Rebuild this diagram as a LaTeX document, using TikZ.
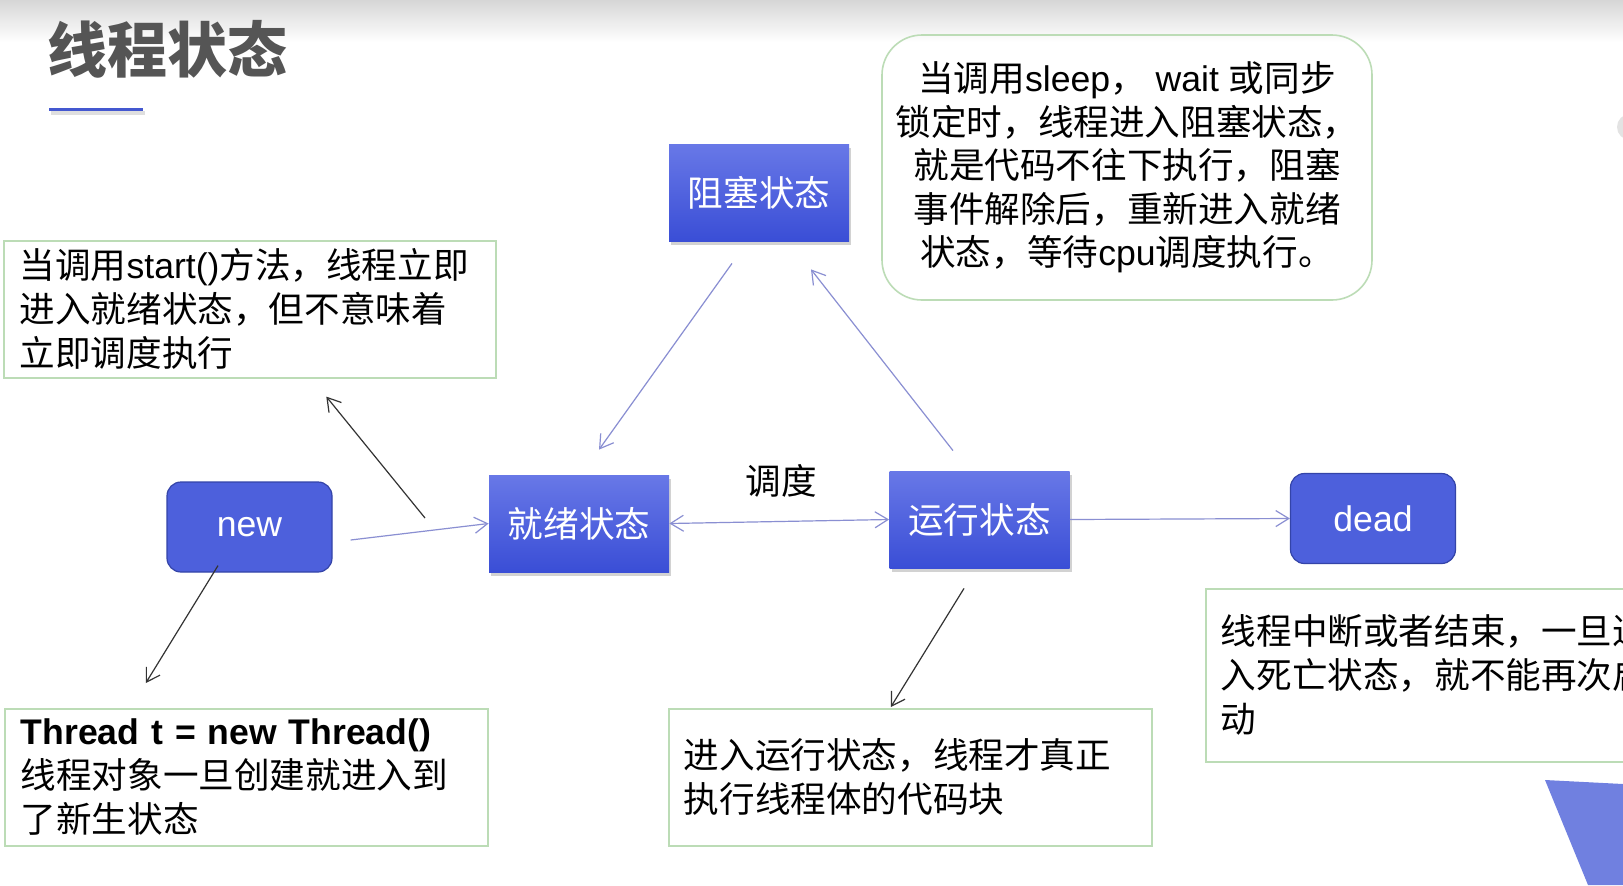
\documentclass[tikz,border=0pt]{standalone}
\usepackage{fontspec}
\setmainfont{Noto Sans CJK SC}
\newfontfamily\arial{Liberation Sans}
\usetikzlibrary{arrows.meta,shadows,calc}

\definecolor{statetop}{HTML}{6878E7}
\definecolor{statebot}{HTML}{3A4ED6}
\definecolor{roundfill}{HTML}{4D60DC}
\definecolor{roundedge}{HTML}{3444A8}
\definecolor{flowcol}{HTML}{8A8FD2}
\definecolor{hintcol}{HTML}{333333}
\definecolor{notegreen}{HTML}{BCDCB6}
\definecolor{titlegray}{HTML}{555555}
\definecolor{accent}{HTML}{4458D0}
\definecolor{tri}{HTML}{7080E0}

\tikzset{barb/.tip={Straight Barb[length=6.5pt,width=8pt]}}

\begin{document}
\begin{tikzpicture}[x=0.5pt, y=-0.5pt,
  every node/.style={font=\fontsize{17.8}{22}\selectfont},
  state/.style={minimum width=90pt, minimum height=48.5pt, top color=statetop, bottom color=statebot,
    text=white, drop shadow={shadow xshift=1pt, shadow yshift=-2pt, opacity=0.35}},
  endstate/.style={rounded corners=7pt, minimum width=82.5pt, minimum height=45pt, fill=roundfill,
    draw=roundedge, line width=0.6pt, text=white, font=\arial\fontsize{17.8}{22}\selectfont},
  note/.style={draw=notegreen, line width=0.8pt, anchor=north west, align=left, inner xsep=8pt,
    minimum height=68.5pt},
  flow/.style={-barb, draw=flowcol, line width=0.6pt},
  hint/.style={-barb, draw=hintcol, line width=0.6pt}]
  \useasboundingbox (0,0) rectangle (1623,885);
  \clip (0,0) rectangle (1623,885);
  \fill[white] (0,0) rectangle (1623,885);
  \shade[top color=black!16, bottom color=white] (0,0) rectangle (1623,42); % slide top

  % title
  \node[anchor=west, inner sep=0, text=titlegray, font=\fontsize{30}{30}\selectfont\bfseries] (title) at (47,49) {线程状态};
  \draw[gray!25, line width=2pt] (51,113) -- (145,113);
  \draw[accent, line width=1.5pt] (49,109) -- (143,109);

  % states
  \node[endstate] (new) at (249.5,527) {new};
  \node[state] (ready) at (579,523.5) {就绪状态};
  \node[state] (run) at (979.5,519.5) {运行状态};
  \node[state] (block) at (759,192.5) {阻塞状态};
  \node[endstate] (dead) at (1373,518.5) {dead};
  \node (sched) at (781,481) {调度};

  % notes
  \node[note, text width=230pt] (startnote) at (3,240)
    {当调用{\arial start()}方法，线程立即\\进入就绪状态，但不意味着\\立即调度执行};
  \node[note, text width=225.5pt] (newnote) at (4,708)
    {{\arial\bfseries Thread t = new Thread()}\\线程对象一旦创建就进入到\\了新生状态};
  \node[note, inner xsep=7.5pt, text width=226.5pt] (runnote) at (668,708)
    {进入运行状态，线程才真正\\执行线程体的代码块};
  \node[note, inner xsep=7.5pt, text width=235pt, minimum height=86.5pt] (deadnote) at (1205,588)
    {线程中断或者结束，一旦进\\入死亡状态，就不能再次启\\动};
  \node[draw=notegreen, line width=0.8pt, rounded corners=20pt, align=center, minimum width=245pt,
    minimum height=132.5pt, font=\fontsize{17.8}{21.8}\selectfont] (blocknote) at (1127,167.5)
    {当调用{\arial sleep}，{\arial\ wait\ }或同步\\锁定时，线程进入阻塞状态，\\就是代码不往下执行，阻塞\\事件解除后，重新进入就绪\\状态，等待{\arial cpu}调度执行。};

  % transitions
  \draw[flow] ($(new.east)+(18,13)$) -- (ready.west);
  \draw[flow, barb-barb] (ready.east) -- (run.west);
  \draw[flow] (run.east) -- (dead.west);
  \draw[flow] ([shift={(-27,22)}]block.south) -- ([shift={(20,-25)}]ready.north);
  \draw[flow] ([shift={(-26.5,-20)}]run.north) -- ([shift={(52,28)}]block.south);

  % pointers to notes
  \coordinate (startcall) at (425,518);
  \draw[hint] (startcall) -- ([shift={(76.5,18)}]startnote.south);
  \draw[hint] ([shift={(-31.5,-7)}]new.south) -- ([shift={(-100.5,-25)}]newnote.north);
  \draw[hint] ([shift={(-15.5,20)}]run.south) -- ([shift={(-19.5,-1)}]runnote.north);

  % slide decoration
  \fill[tri] (1545,780) -- (1623,784) -- (1623,885) -- (1588,885) -- cycle;
  \fill[gray!22] (1630,127) circle (6.5pt);
\end{tikzpicture}
\end{document}
